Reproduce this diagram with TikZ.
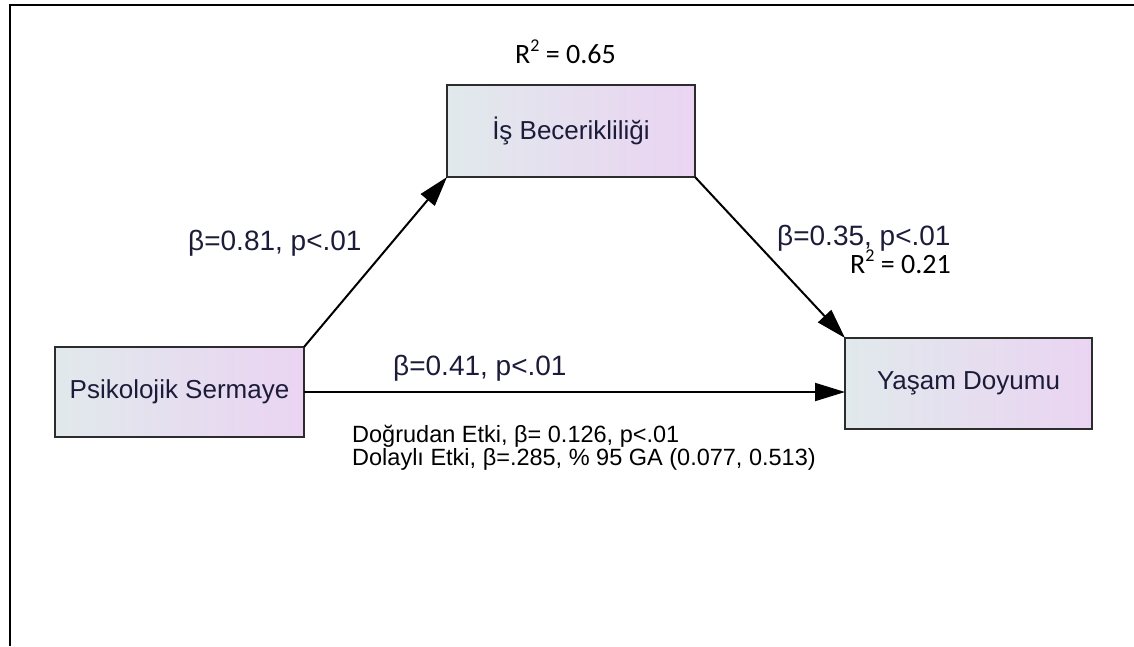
\documentclass[tikz,border=0pt]{standalone}
\usepackage{fontspec}
\setmainfont{Liberation Sans}
\newfontfamily\calibrifont{Carlito}
\usetikzlibrary{arrows.meta}
\definecolor{labelink}{RGB}{28,28,58}
\definecolor{boxleft}{RGB}{225,233,236}
\definecolor{boxright}{RGB}{234,212,242}
\definecolor{boxedge}{RGB}{44,44,44}
\tikzset{
  varbox/.style={draw=boxedge, line width=2.8pt, left color=boxleft, right color=boxright,
    inner sep=0pt, outer sep=0pt, text=labelink, font=\fontsize{26}{28}\selectfont},
  pathline/.style={line width=2pt, draw=black, -{Triangle[length=30pt,width=18pt]}},
  coef/.style={anchor=base west, inner sep=0pt, text=labelink, font=\fontsize{28}{32}\selectfont},
  rsq/.style={anchor=base west, inner sep=0pt, font=\calibrifont\fontsize{28}{32}\selectfont},
  note/.style={anchor=base west, inner sep=0pt, font=\fontsize{23.5}{26}\selectfont}
}
\newcommand{\rsqtext}[1]{R\raisebox{0.42em}{\fontsize{18}{18}\selectfont 2} = #1}
\begin{document}
\begin{tikzpicture}[x=1pt,y=-1pt]
\useasboundingbox (0,0) rectangle (1134,646);
\fill[white] (0,0) rectangle (1134,646);
% outer frame (top and left edges)
\draw[line width=2pt] (10,646) -- (10,5) -- (1134,5);

% variables
\node[varbox, minimum width=249pt, minimum height=90pt] (ps) at (179.5,392) {Psikolojik Sermaye};
\node[varbox, minimum width=248pt, minimum height=92pt] (ib) at (571,131) {İş Becerikliliği};
\node[varbox, minimum width=247pt, minimum height=91pt] (yd) at (968.5,383.5) {Yaşam Doyumu};

% paths
\draw[pathline] (ps.north east) -- (ib.south west);
\draw[pathline] (ib.south east) -- (yd.north west);
\draw[pathline] (ps.east) -- (ps.east -| yd.west);

% coefficients
\node[coef] (a) at (188,250) {β=0.81, p<.01};
\node[coef] (b) at (777,245) {β=0.35, p<.01};
\node[coef] (c) at (393,375) {β=0.41, p<.01};

% explained variance
\node[rsq] (r1) at (515,63) {\rsqtext{0.65}};
\node[rsq] (r2) at (850,273) {\rsqtext{0.21}};

% direct and indirect effects
\node[note] (d1) at (352,442) {Doğrudan Etki, β= 0.126, p<.01};
\node[note] (d2) at (352,465) {Dolaylı Etki, β=.285, \% 95 GA (0.077, 0.513)};
\end{tikzpicture}
\end{document}
